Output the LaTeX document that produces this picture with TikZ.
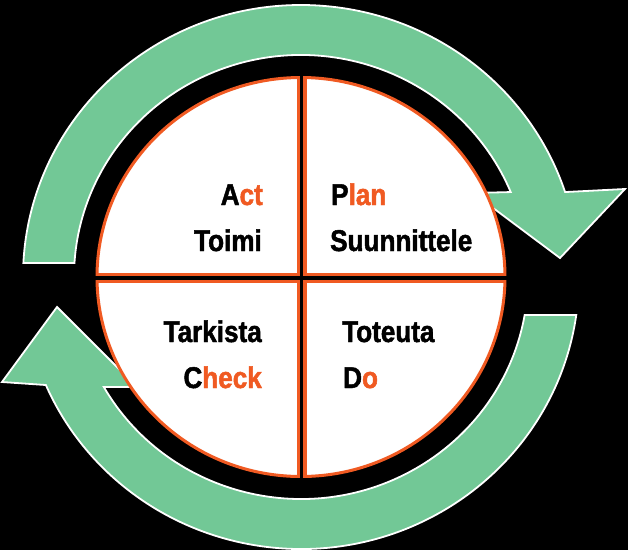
\documentclass[tikz,border=0pt]{standalone}
\usepackage{fontspec}
\usepackage{xcolor}
\newfontfamily\pdcafont{Liberation Sans}[FakeStretch=0.87,FakeBold=1.6]
\definecolor{pdcagreen}{RGB}{114,200,150}
\definecolor{pdcaorange}{RGB}{240,90,34}

\begin{document}
\begin{tikzpicture}[x=1pt,y=1pt]
  \tikzset{ringarrow/.style={fill=pdcagreen,draw=white,line width=1.8pt,line join=miter}}
  \tikzset{phase/.style={font=\pdcafont\bfseries\fontsize{30}{30}\selectfont,inner sep=0pt}}
  \fill[black] (-301,-273) rectangle (327,277);
  \useasboundingbox (-301,-273) rectangle (327,277);
  % upper arrow, left to right over the top
  \draw[ringarrow] (176.4:227 and 222) -- (177.05:278 and 272)
    arc[start angle=177.05,end angle=18.2,x radius=278,y radius=272]
    -- (324,88) -- (259,19) -- (172,84) -- (22.5:227 and 222)
    arc[start angle=22.5,end angle=176.4,x radius=227,y radius=222] -- cycle;
  % lower arrow, right to left under the bottom
  \draw[ringarrow] (-8.03:278 and 272)
    arc[start angle=-8.03,end angle=-156.6,x radius=278,y radius=272]
    -- (-299,-105) -- (-244,-30) -- (-164,-110) -- (-150.3:227 and 222)
    arc[start angle=-150.3,end angle=-9.86,x radius=227,y radius=222] -- cycle;
  % the disc and its quarters
  \filldraw[fill=white,draw=pdcaorange,line width=3pt] (0,0) ellipse[x radius=204,y radius=199.5];
  \begin{scope}
    \clip (0,0) ellipse[x radius=205,y radius=201];
    \draw[pdcaorange,line width=10pt] (0.5,-210) -- (0.5,210) (-215,-1) -- (215,-1);
  \end{scope}
  \draw[black,line width=3.6pt] (0.5,-205) -- (0.5,205) (-210,-1) -- (210,-1);
  % labels
  \node[phase,anchor=base east] (act) at (-38,72) {A\textcolor{pdcaorange}{ct}};
  \node[phase,anchor=base east] (toimi) at (-39,26) {Toimi};
  \node[phase,anchor=base west] (plan) at (30,72) {P\textcolor{pdcaorange}{lan}};
  \node[phase,anchor=base west] (suunnittele) at (29,26) {Suunnittele};
  \node[phase,anchor=base east] (tarkista) at (-39,-65) {Tarkista};
  \node[phase,anchor=base east] (check) at (-39,-111) {C\textcolor{pdcaorange}{heck}};
  \node[phase,anchor=base west] (toteuta) at (41,-65) {Toteuta};
  \node[phase,anchor=base west] (do) at (42,-111) {D\textcolor{pdcaorange}{o}};
\end{tikzpicture}
\end{document}
